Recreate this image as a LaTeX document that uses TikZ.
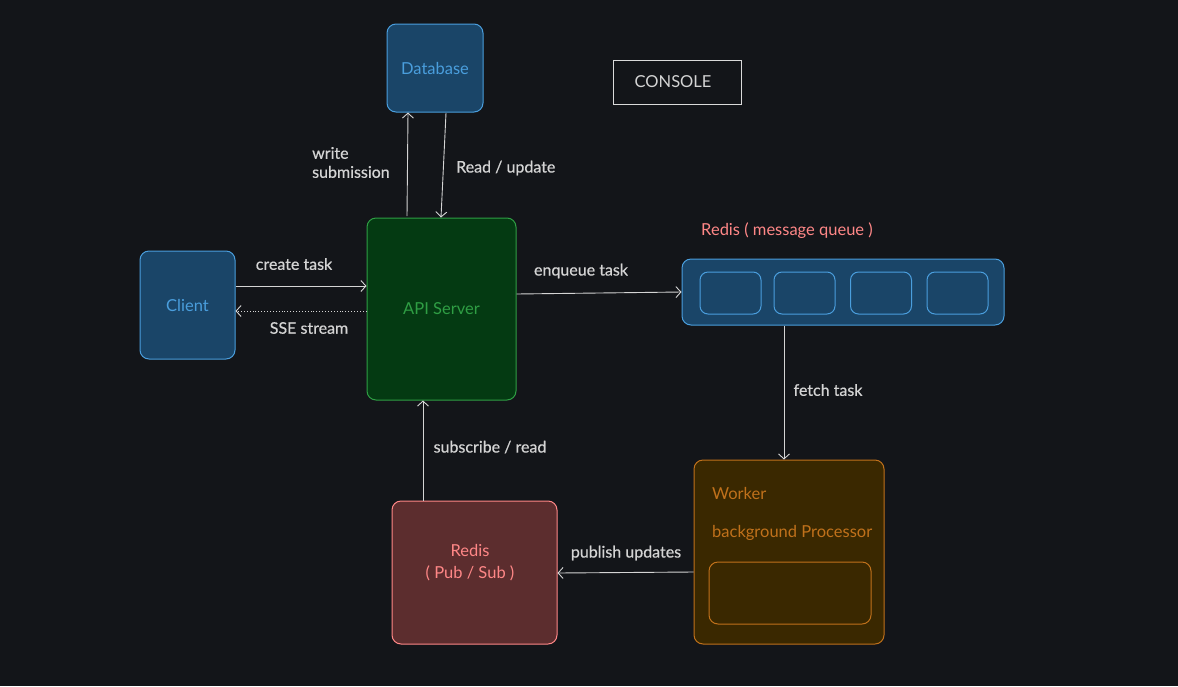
\documentclass[tikz,border=0pt]{standalone}
\usepackage{fontspec}
\setmainfont{Lato}
\newfontfamily\labfont{Lato}[FakeBold=0.5]
\usetikzlibrary{arrows.meta}
\definecolor{bg}{HTML}{131519}
\definecolor{bluefill}{HTML}{1A4568}
\definecolor{blueline}{HTML}{4A9EDD}
\definecolor{greenfill}{HTML}{043A12}
\definecolor{greenline}{HTML}{2F9E44}
\definecolor{orfill}{HTML}{3A2800}
\definecolor{orline}{HTML}{C0711B}
\definecolor{redfill}{HTML}{5C2D2E}
\definecolor{redline}{HTML}{FF8787}
\definecolor{lbl}{HTML}{D4D4D4}
\tikzset{
  box/.style={draw, rounded corners=9pt, line width=1pt, inner sep=0pt},
  bluebox/.style={box, fill=bluefill, draw=blueline, text=blueline},
  conn/.style={draw=lbl, line width=0.9pt, -{Straight Barb[length=5pt,width=11pt]}},
  lab/.style={text=lbl, font=\labfont\fontsize{16}{19}\selectfont, inner sep=0pt},
  btxt/.style={font=\fontsize{16.5}{22}\selectfont, inner sep=0pt}
}
\begin{document}
\begin{tikzpicture}[x=1pt,y=-1pt]
\fill[bg] (0,0) rectangle (1178,686);
\useasboundingbox (0,0) rectangle (1178,686);

% nodes
\node[bluebox, minimum width=95pt, minimum height=108pt, btxt] (client) at (187.5,305) {Client};
\node[box, fill=greenfill, draw=greenline, text=greenline, minimum width=149pt, minimum height=182pt, btxt] (api) at (441.5,309) {API Server};
\node[bluebox, minimum width=96pt, minimum height=88pt, btxt] (db) at (435,68) {Database};
\node[draw=lbl!85, line width=0.9pt, minimum width=128pt, minimum height=44pt] (console) at (677,82) {};
\node[text=lbl, btxt] (ctxt) at (673,82) {CONSOLE};

\node[bluebox, minimum width=322pt, minimum height=66pt] (queue) at (843,292) {};
\node[text=redline, btxt] (qtitle) at (787,231) {Redis ( message queue )};
\foreach \i/\cx in {1/730.5, 2/804.5, 3/881, 4/957.5}{
  \node[bluebox, rounded corners=8pt, minimum width=61pt, minimum height=42pt] (q\i) at (\cx,293) {};
}

\node[box, fill=orfill, draw=orline, minimum width=190pt, minimum height=184pt] (worker) at (789,552) {};
\node[text=orline, btxt, anchor=west] (wt1) at (712,493) {Worker};
\node[text=orline, btxt, anchor=west] (wt2) at (712,533) {background Processor};
\node[box, draw=orline, fill=orfill, minimum width=162pt, minimum height=62pt] (winner) at (790,593) {};

\node[box, fill=redfill, draw=redline, minimum width=165pt, minimum height=143pt] (pubsub) at (474.5,572.5) {};
\node[text=redline, btxt, align=center] (pstxt) at (470,563) {Redis\\( Pub / Sub )};

% connectors
\draw[conn] (client.east |- 0,286) -- (api.west |- 0,286);
\node[lab] (l1) at (294,264) {create task};
\draw[conn, dotted] (api.west |- 0,311) -- (client.east |- 0,311);
\node[lab] (l2) at (309,328) {SSE stream};
\draw[conn] (407,216) -- (db.south -| 408,0);
\node[lab, align=left, anchor=west] (wlbl) at (312,162.5) {write\\submission};
\draw[conn] (446,113) -- (api.north -| 441,0);
\node[lab, anchor=west] (rlbl) at (456,168) {Read / update};
\draw[conn] (api.east |- 0,294) -- (queue.west |- 0,292);
\node[lab] (l3) at (581,271) {enqueue task};
\draw[conn] (queue.south -| 784,0) -- (worker.north -| 784,0);
\node[lab] (l4) at (828,390) {fetch task};
\draw[conn] (pubsub.north -| 423,0) -- (api.south -| 423,0);
\node[lab] (l5) at (490,447) {subscribe / read};
\draw[conn] (worker.west |- 0,572) -- (pubsub.east |- 0,573);
\node[lab] (l6) at (626,553) {publish updates};
\end{tikzpicture}
\end{document}
